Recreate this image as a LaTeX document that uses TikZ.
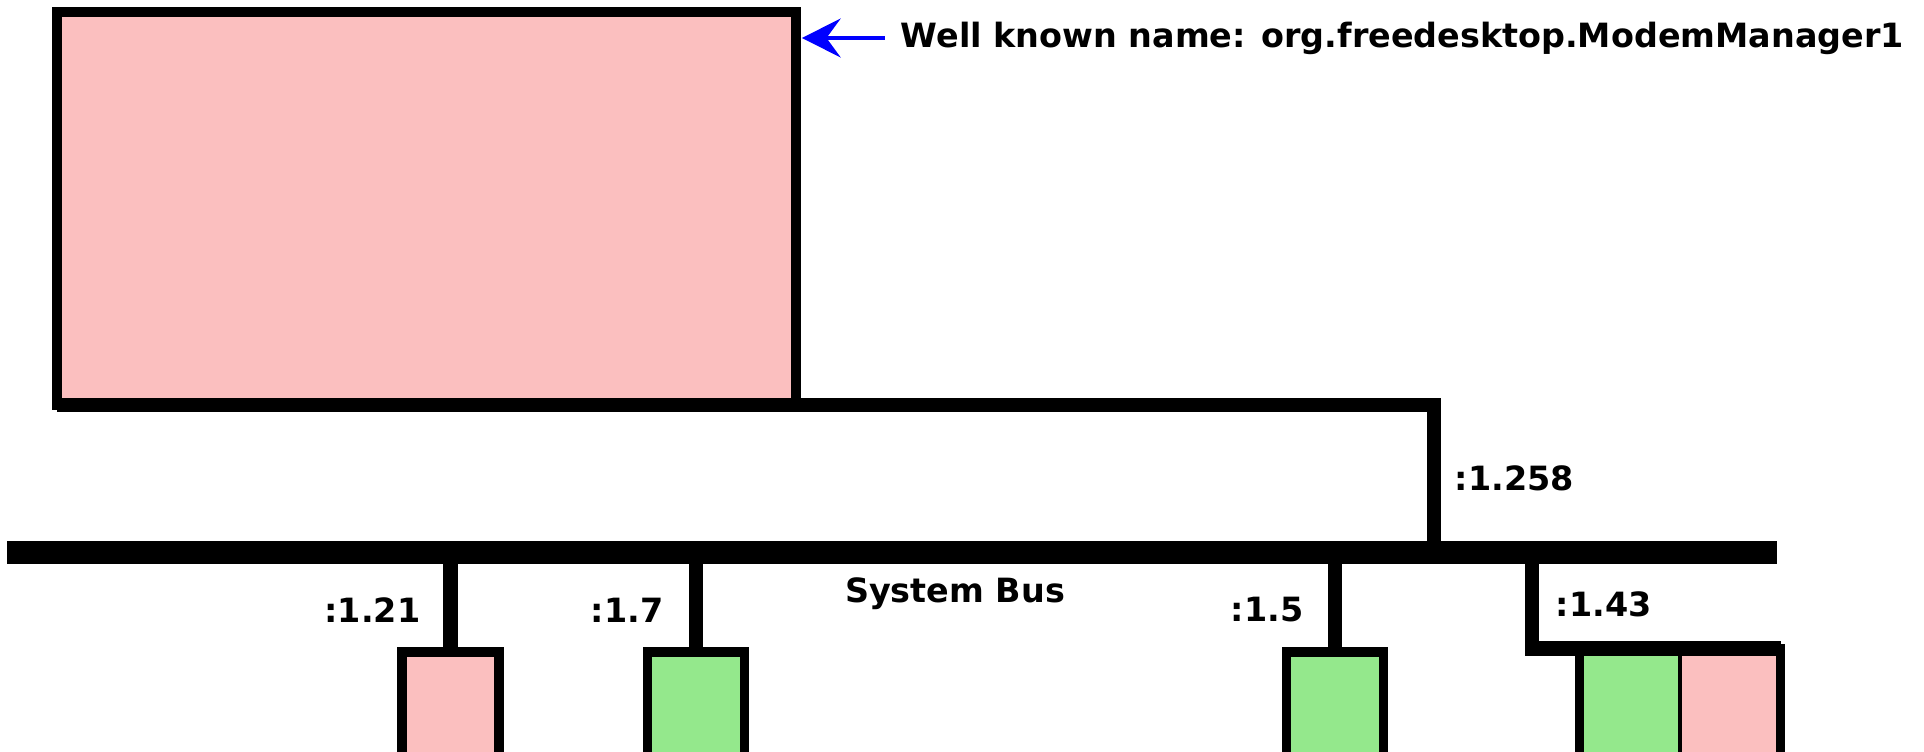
\documentclass[tikz,border=0pt]{standalone}
\usepackage{fontspec}
\setmainfont{DejaVu Sans}
\usetikzlibrary{arrows.meta}
\definecolor{ownpink}{RGB}{251,191,191}
\definecolor{ownpgreen}{RGB}{148,232,140}
\tikzset{
  conn/.style={draw, line width=2.8pt, inner sep=0pt, outer sep=0pt},
  wire/.style={line width=4pt},
  lbl/.style={inner sep=0pt, font=\bfseries\fontsize{9.5}{11}\selectfont}
}
\begin{document}
\begin{tikzpicture}[x=0.01cm, y=-0.01cm]
\useasboundingbox (0,0) rectangle (1924,752);
\clip (0,0) rectangle (1924,752);

% the service that owns the well known name
\node[conn, fill=ownpink, minimum width=7.39cm, minimum height=3.93cm] (mm) at (426.5,208.5) {};
\node[lbl, anchor=west] (wkn) at (900,38) {Well known name: org.freedesktop.ModemManager1};
\draw[blue, line width=1.4pt, -{Stealth[length=11pt, width=11pt, inset=4pt]}] ([xshift=-4.3pt]wkn.west) -- ([xshift=1.6pt]mm.north east |- wkn.west);

% the bus
\node[fill=black, inner sep=0pt, minimum width=17.68cm, minimum height=0.23cm] (bus) at (892,552.5) {};
\node[lbl] (sysbus) at (955,594) {System Bus};

\coordinate (j258) at (1434,552);
\draw[wire] (mm.south west) -| (j258);
\node[lbl, anchor=west] (n258) at (1454,478) {:1.258};

% clients
\node[conn, fill=ownpink, minimum width=0.97cm, minimum height=1.5cm] (c21) at (450.5,727) {};
\node[conn, fill=ownpgreen, minimum width=0.97cm, minimum height=1.5cm] (c7) at (696,727) {};
\node[conn, fill=ownpgreen, minimum width=0.97cm, minimum height=1.5cm] (c5) at (1335,727) {};
\draw[wire] (c21.north) -- (c21.north |- bus.center);
\draw[wire] (c7.north) -- (c7.north |- bus.center);
\draw[wire] (c5.north) -- (c5.north |- bus.center);
\node[lbl, anchor=east] (n21) at (421,610) {:1.21};
\node[lbl, anchor=east] (n7) at (664,610) {:1.7};
\node[lbl, anchor=east] (n5) at (1304,610) {:1.5};

% client with two objects
\node[draw, line width=1.4pt, fill=ownpgreen, inner sep=0pt, minimum width=0.98cm, minimum height=1.5cm] (c43g) at (1631,726) {};
\node[draw, line width=1.4pt, fill=ownpink, inner sep=0pt, minimum width=0.98cm, minimum height=1.5cm] (c43p) at (1729,726) {};
\draw[line width=2.8pt] (c43g.north west) rectangle (c43p.south east);
\coordinate (j43) at (1532,552);
\draw[wire] (j43) |- (c43p.north east);
\node[lbl, anchor=west] (n43) at (1555,604) {:1.43};
\end{tikzpicture}
\end{document}
